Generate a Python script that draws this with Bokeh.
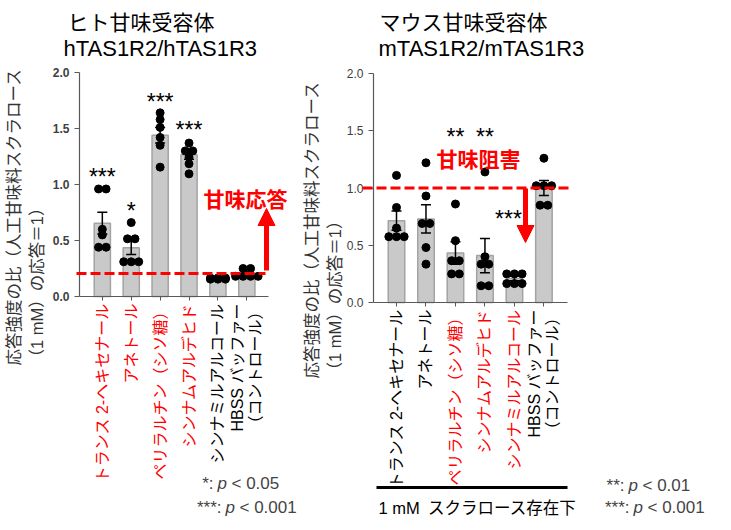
import math
from bokeh.plotting import figure
from bokeh.layouts import row
from bokeh.models import (FixedTicker, PrintfTickFormatter, LinearAxis,
                          Label, Arrow, NormalHead)
from bokeh.core.properties import value
from bokeh.embed import file_html
from bokeh.resources import INLINE

# ---------------- data ----------------
h_compounds = ["トランス 2-ヘキセナール", "アネトール", "ペリラルチン（シソ糖）",
               "シンナムアルデヒド", "シンナミルアルコール", "HBSS バッファー\n（コントロール）"]
h_red = [True, True, True, True, False, False]
h_means = [0.655, 0.435, 1.44, 1.265, 0.16, 0.205]
h_sem = [0.097, 0.06, 0.07, 0.04, 0.005, 0.015]
h_points = [
    [0.96, 0.96, 0.60, 0.55, 0.44, 0.44],
    [0.66, 0.515, 0.515, 0.31, 0.31, 0.31],
    [1.64, 1.58, 1.51, 1.42, 1.35, 1.155],
    [1.37, 1.30, 1.30, 1.245, 1.185, 1.095],
    [0.165, 0.165, 0.165, 0.155, 0.155, 0.155],
    [0.25, 0.25, 0.18, 0.18, 0.18, 0.18],
]
h_stars = ["***", "*", "***", "***", "", ""]
h_star_level = [1.11, 0.81, 1.78, 1.53, 0, 0]

m_compounds = ["トランス 2-ヘキセナール", "アネトール", "ペリラルチン（シソ糖）",
               "シンナムアルデヒド", "シンナミルアルコール", "HBSS バッファー\n（コントロール）"]
m_red = [False, False, True, True, True, False]
m_means = [0.715, 0.73, 0.432, 0.41, 0.21, 1.0]
m_sem = [0.085, 0.124, 0.098, 0.15, 0.02, 0.065]
m_points = [
    [1.11, 0.83, 0.65, 0.575, 0.575, 0.575],
    [1.22, 0.93, 0.69, 0.69, 0.48, 0.335],
    [0.86, 0.54, 0.365, 0.365, 0.25, 0.25],
    [1.14, 0.40, 0.335, 0.335, 0.146, 0.146],
    [0.25, 0.25, 0.25, 0.165, 0.165, 0.165],
    [1.26, 1.02, 1.02, 1.02, 0.85, 0.85],
]
m_stars = ["", "", "**", "**", "***", ""]
m_star_level = [0, 0, 1.485, 1.485, 0.777, 0]

y_ticks = [0.0, 0.5, 1.0, 1.5, 2.0]
h_title = ["ヒト甘味受容体", "hTAS1R2/hTAS1R3"]
m_title = ["マウス甘味受容体", "mTAS1R2/mTAS1R3"]
y_label = "応答強度の比（人工甘味料スクラロース\n（1 mM）の応答＝1）"
h_note = "甘味応答"
m_note = "甘味阻害"
h_sig = [("*:", "< 0.05"), ("***:", "< 0.001")]
m_sig = [("**:", "< 0.01"), ("***:", "< 0.001")]
m_condition = "1 mM\u2002スクラロース存在下"

# ---------------- style ----------------
LAT = "'Liberation Sans', 'Noto Sans CJK JP', sans-serif"
JP = "'Noto Sans CJK JP', sans-serif"
RED = "#ff0000"
AX = "#595959"
H = 528


def swarm(vals, step=0.26):
    offs = []
    for i, v in enumerate(vals):
        grp = [j for j, w in enumerate(vals) if abs(w - v) < 1e-9]
        k = grp.index(i)
        n = len(grp)
        offs.append((k - (n - 1) / 2) * step)
    return offs


def make_panel(c):
    W = c["W"]
    ox = c["ox"]
    fx0, fx1, fy0, fy1 = c["frame"]
    xs, xe = c["xr"]

    def D(X, Y):
        return (xs + (X - fx0) / (fx1 - fx0) * (xe - xs),
                (fy1 - Y) / (fy1 - fy0) * 2.0)

    cx0, cy1 = D(ox, 0)
    cx1, cy0 = D(ox + W, H)
    p = figure(width=W, height=H, x_range=(cx0, cx1), y_range=(cy0, cy1),
               output_backend="svg", toolbar_location=None,
               x_axis_location=None, y_axis_location=None, min_border=0)
    p.outline_line_color = None
    p.grid.visible = False

    n = len(c["means"])
    xi = list(range(n))
    p.vbar(x=xi, top=c["means"], width=0.56, bottom=0,
           fill_color="#c9c9c9", line_color="#a3a3a3", line_width=1.5)
    lo = [m - s for m, s in zip(c["means"], c["sem"])]
    hi = [m + s for m, s in zip(c["means"], c["sem"])]
    p.segment(x0=xi, y0=lo, x1=xi, y1=hi, line_color="black", line_width=1.5)
    p.scatter(x=xi + xi, y=lo + hi, marker="dash", size=10, line_color="black", line_width=1.5)

    px, py = [], []
    for i, vals in enumerate(c["points"]):
        for o, v in zip(swarm(vals), vals):
            px.append(i + o)
            py.append(v)
    p.scatter(x=px, y=py, size=8, fill_color="black", line_color="black")

    sx = [i for i in xi if c["stars"][i]]
    p.text(x=sx, y=[c["star_level"][i] for i in sx], text=[c["stars"][i] for i in sx],
           x_offset=[c["star_dx"][i] for i in sx], y_offset=5,
           text_align="center", text_baseline="middle", text_font=value(LAT),
           text_font_size="23px", text_color="black")

    # y axis
    ya = LinearAxis(fixed_location=xs, bounds=(0, 2.0), ticker=FixedTicker(ticks=y_ticks),
                    formatter=PrintfTickFormatter(format="%.1f"),
                    major_label_text_font=LAT, major_label_text_font_size="12px",
                    major_label_text_font_style=c["tick_style"],
                    major_label_text_color="#404040",
                    axis_line_color=AX, axis_line_width=1.2, major_tick_line_color=AX,
                    major_tick_in=0, major_tick_out=5, minor_tick_line_color=None)
    p.add_layout(ya, "left")

    # x axes: one for the black labels (with axis line/ticks), one for the red labels
    black_over = {i: ("" if c["red"][i] else c["labels"][i]) for i in xi}
    xa = LinearAxis(fixed_location=0, bounds=c["xr"], ticker=FixedTicker(ticks=xi),
                    major_label_overrides=black_over, major_label_orientation=math.pi / 2,
                    major_label_text_font=LAT, major_label_text_font_size="16px",
                    major_label_text_color="black", major_label_text_line_height=1.05,
                    major_label_standoff=3,
                    axis_line_color=AX, axis_line_width=1.2, major_tick_line_color=AX,
                    major_tick_in=0, major_tick_out=4, minor_tick_line_color=None)
    p.add_layout(xa, "below")
    red_idx = [i for i in xi if c["red"][i]]
    xr_ax = LinearAxis(fixed_location=0, bounds=c["xr"], ticker=FixedTicker(ticks=red_idx),
                       major_label_overrides={i: c["labels"][i] for i in red_idx},
                       major_label_orientation=math.pi / 2,
                       major_label_text_font=LAT, major_label_text_font_size="16px",
                       major_label_text_color=RED, major_label_text_line_height=1.05,
                       major_label_standoff=3,
                       axis_line_color=None, major_tick_line_color=None,
                       major_tick_in=0, major_tick_out=4, minor_tick_line_color=None)
    p.add_layout(xr_ax, "below")

    # y axis label
    X, Y = D(*c["ylab"])
    p.add_layout(Label(x=X, y=Y, text=y_label, angle=math.pi / 2, text_align="left",
                       text_baseline="middle", text_font=LAT, text_font_size="16.5px",
                       text_color="#333333", text_line_height=1.3))

    # titles
    for (tx, ty), t, f, fs in zip(c["title_pos"], c["title"], (JP, LAT), ("21px", "22px")):
        X, Y = D(tx, ty)
        p.add_layout(Label(x=X, y=Y, text=t, text_align="left", text_baseline="middle",
                           text_font=f, text_font_size=fs, text_color="black"))

    # reference dashed line at the control level
    (a, _), (b, _) = D(c["dash_x"][0], 0), D(c["dash_x"][1], 0)
    ref = c["means"][-1]
    p.add_layout(Arrow(x_start=a, y_start=ref, x_end=b, y_end=ref, end=None,
                       line_color=RED, line_width=3, line_dash="10 4"))
    # red arrow
    X0, Y0 = D(*c["arrow"][0])
    X1, Y1 = D(*c["arrow"][1])
    p.add_layout(Arrow(x_start=X0, y_start=Y0, x_end=X1, y_end=Y1, line_color=RED,
                       line_width=5,
                       end=NormalHead(size=17, fill_color=RED, line_color=RED, line_width=1)))
    X, Y = D(*c["note_pos"])
    p.add_layout(Label(x=X, y=Y, text=c["note"], text_align="center", text_baseline="middle",
                       text_font=JP, text_font_size="21px", text_font_style="bold",
                       text_color=RED))

    # significance footnotes
    for (pre, post), (tx, ty) in zip(c["sig"], c["sig_pos"]):
        X, Y = D(tx, ty)
        p.add_layout(Label(x=X, y=Y, x_offset=-4, text=pre, text_align="right",
                           text_baseline="middle", text_font=LAT, text_font_size="17px"))
        p.add_layout(Label(x=X, y=Y, text="p", text_align="left", text_font_style="italic",
                           text_baseline="middle", text_font=LAT, text_font_size="17px"))
        p.add_layout(Label(x=X, y=Y, x_offset=14, text=post, text_align="left",
                           text_baseline="middle", text_font=LAT, text_font_size="17px"))
    return p, D


pL, DL = make_panel(dict(
    W=301, ox=0, frame=(79, 268, 72, 296), xr=(-0.79, 5.75),
    means=h_means, sem=h_sem, points=h_points, stars=h_stars, star_level=h_star_level,
    star_dx=[0, 0, 0, 0, 0, 0], tick_style="bold",
    labels=h_compounds, red=h_red, ylab=(25, 365),
    title=h_title, title_pos=[(67, 20), (63, 48)],
    dash_x=(76, 265), arrow=[(266, 270), (266, 208)], note=h_note, note_pos=(245, 197),
    sig=h_sig, sig_pos=[(217, 483), (225, 507)],
))

pR, DR = make_panel(dict(
    W=429, ox=301, frame=(373, 567, 73, 302), xr=(-0.78, 5.8),
    means=m_means, sem=m_sem, points=m_points, stars=m_stars, star_level=m_star_level,
    star_dx=[0, 0, 0, 0, -6, 0], tick_style="normal",
    labels=m_compounds, red=m_red, ylab=(323, 378),
    title=m_title, title_pos=[(379, 20), (378, 48)],
    dash_x=(362, 568), arrow=[(525, 188), (525, 242)], note=m_note, note_pos=(478, 157),
    sig=m_sig, sig_pos=[(628, 485), (633, 507)],
))

# condition bracket under the mouse panel
(xa_, ya_), (xb_, _) = DR(376, 487), DR(567, 487)
pR.add_layout(Arrow(x_start=xa_, y_start=ya_, x_end=xb_, y_end=ya_, end=None,
                    line_color="black", line_width=3))
X, Y = DR(378, 507)
pR.add_layout(Label(x=X, y=Y, text=m_condition, text_align="left", text_baseline="middle",
                    text_font=LAT, text_font_size="16.5px", text_color="black"))

layout = row(pL, pR)
open("out.html", "w").write(file_html(layout, INLINE))
